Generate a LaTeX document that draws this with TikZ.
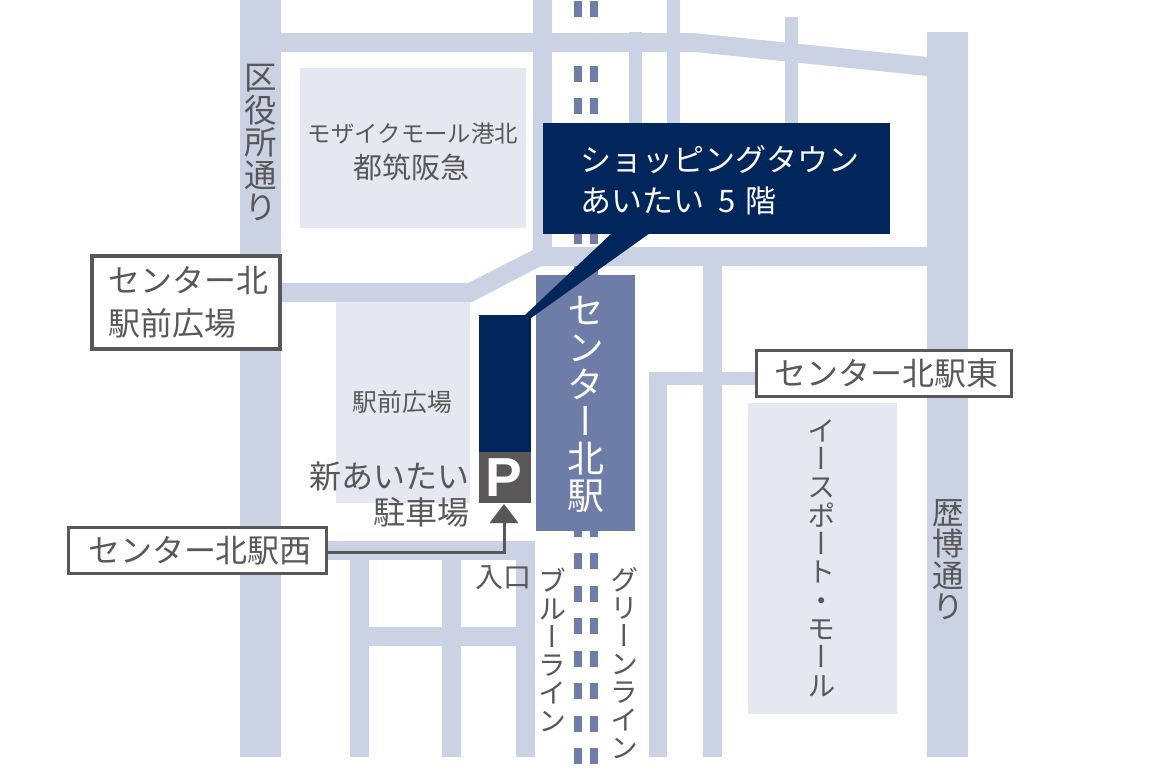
\documentclass[tikz,border=0pt]{standalone}
\usepackage{fontspec}
\setmainfont{Noto Sans CJK JP}
\newfontfamily\vjp[RawFeature=+vert]{Noto Sans CJK JP}
\newfontfamily\pfont[Scale=1]{Liberation Sans}
\usetikzlibrary{arrows.meta}
\definecolor{roadc}{HTML}{CAD2E3}
\definecolor{blockc}{HTML}{E5E8F1}
\definecolor{stationc}{HTML}{6D7DA7}
\definecolor{navyc}{HTML}{00265C}
\definecolor{grayc}{HTML}{595757}
\newcommand{\fsz}[2]{\fontsize{#1}{#2}\selectfont}
\newcommand{\vsz}[1]{\fontsize{#1}{#1}\selectfont\vjp}
\tikzset{
  road/.style={fill=roadc},
  block/.style={fill=blockc},
  rail/.style={fill=stationc},
  plain/.style={inner sep=0pt,text=grayc,align=center},
  vlabel/.style={inner sep=0pt,text=grayc,align=center},
  signbox/.style={draw=grayc,fill=white,line width=3pt,inner sep=0pt,text=grayc,align=left},
  conn/.style={draw=grayc,line width=3pt},
}
\begin{document}
\begin{tikzpicture}[x=1pt,y=-1pt]
\useasboundingbox (0,0) rectangle (1160,779);
\fill[white] (0,0) rectangle (1160,779);
% blocks
\fill[block] (300,68) rectangle (526,228);
\fill[block] (336,302) rectangle (470,503);
\fill[block] (748,403) rectangle (897,714);
% rail dashes
\foreach \k in {0,...,23}{
  \pgfmathsetmacro{\ya}{0.9+32.5*\k}
  \pgfmathsetmacro{\yb}{\ya+16}
  \fill[rail] (574,\ya) rectangle (582,\yb);
  \fill[rail] (590,\ya) rectangle (598,\yb);
}
% roads
\fill[road] (240,0) rectangle (281,757);
\fill[road] (927,32) rectangle (968,757);
\fill[road] (281,33) -- (693,33) -- (927,57) -- (927,76) -- (695,52) -- (281,52) -- cycle;
\fill[road] (533,0) rectangle (552,250);
\fill[road] (629,32) rectangle (642,130);
\fill[road] (667,0) rectangle (680,130);
\fill[road] (785,17) rectangle (798,130);
\fill[road] (281,283) -- (468,283) -- (533,250) -- (533,247) -- (927,247) -- (927,266) -- (541,266) -- (472,302) -- (281,302) -- cycle;
\fill[road] (703,266) rectangle (722,757);
\fill[road] (649,372) rectangle (667,757);
\fill[road] (649,372) rectangle (760,385);
\fill[road] (320,541) rectangle (535,560);
\fill[road] (350,541) rectangle (369,757);
\fill[road] (442,541) rectangle (461,757);
\fill[road] (516,541) rectangle (535,757);
\fill[road] (350,627) rectangle (535,646);
% station
\node[fill=stationc,minimum width=99pt,minimum height=256pt,inner sep=0pt] (station) at (585.5,403) {};
\node[inner sep=0pt,text=white,align=center,font=\vsz{37}] (stationname) at (585.5,404)
  {セ\\ン\\タ\\ー\\北\\駅};
% callout
\fill[navyc] (612,233) -- (650,233) -- (531,318) -- (525,315) -- cycle;
\node[fill=navyc,minimum width=347pt,minimum height=111pt,inner sep=0pt] (callout) at (716.5,178.5) {};
\node[anchor=west,inner sep=0pt,text=white,align=left,font=\fsz{31}{41}] (callouttext) at (580,180.5)
  {ショッピングタウン\\あいたい\hspace{7pt} 5\hspace{3pt} 階};
% parking
\node[fill=navyc,minimum width=52pt,minimum height=137pt,inner sep=0pt] (building) at (505,383.5) {};
\node[fill=grayc,minimum width=52pt,minimum height=51pt,inner sep=0pt,text=white,font=\fsz{55}{55}\pfont\bfseries] (pbox) at (505,477.5)
  {P\hspace*{3pt}};
\coordinate (entry) at (504,504);
% signs
\node[signbox,line width=3.5pt,minimum width=188pt,minimum height=93pt,font=\fsz{32}{43}] (plaza) at (186,302.5)
  {\hspace*{5pt}センター北\\\hspace*{5pt}駅前広場};
\node[signbox,minimum width=255pt,minimum height=46pt,font=\fsz{32}{32}] (east) at (883.5,373)
  {\hspace*{6pt}センター北駅東};
\node[signbox,minimum width=258pt,minimum height=45.5pt,font=\fsz{32}{32}] (west) at (197.5,550.5)
  {\hspace*{5pt}センター北駅西};
\draw[conn,-{Triangle[length=19pt,width=28pt]}] (west.east |- 0,552) -| (entry);
% texts
\node[plain,font=\fsz{23.4}{23.4}] (mosaic) at (413,134) {モザイクモール港北};
\node[plain,font=\fsz{29}{29}] (tsuzuki) at (411.5,167) {都筑阪急};
\node[plain,font=\fsz{24.8}{24.8}] (ekimae) at (402.5,402) {駅前広場};
\node[plain,align=right,font=\fsz{32}{36.5}] (shin) at (389,494.5) {新あいたい\\駐車場};
\node[plain,font=\fsz{28}{28}] (iriguchi) at (503.5,578) {入口};
\node[vlabel,font=\vsz{32.5}] (kuyakusho) at (261,143) {区\\役\\所\\通\\り};
\node[vlabel,font=\vsz{31.5}] (rekihaku) at (948,559.5) {歴\\博\\通\\り};
\node[vlabel,font=\vsz{28.3}] (esports) at (822,558) {イ\\ー\\ス\\ポ\\ー\\ト\\・\\モ\\ー\\ル};
\node[vlabel,font=\vsz{28}] (blue) at (552,650) {ブ\\ル\\ー\\ラ\\イ\\ン};
\node[vlabel,font=\vsz{28}] (green) at (624,663) {グ\\リ\\ー\\ン\\ラ\\イ\\ン};
\end{tikzpicture}
\end{document}
